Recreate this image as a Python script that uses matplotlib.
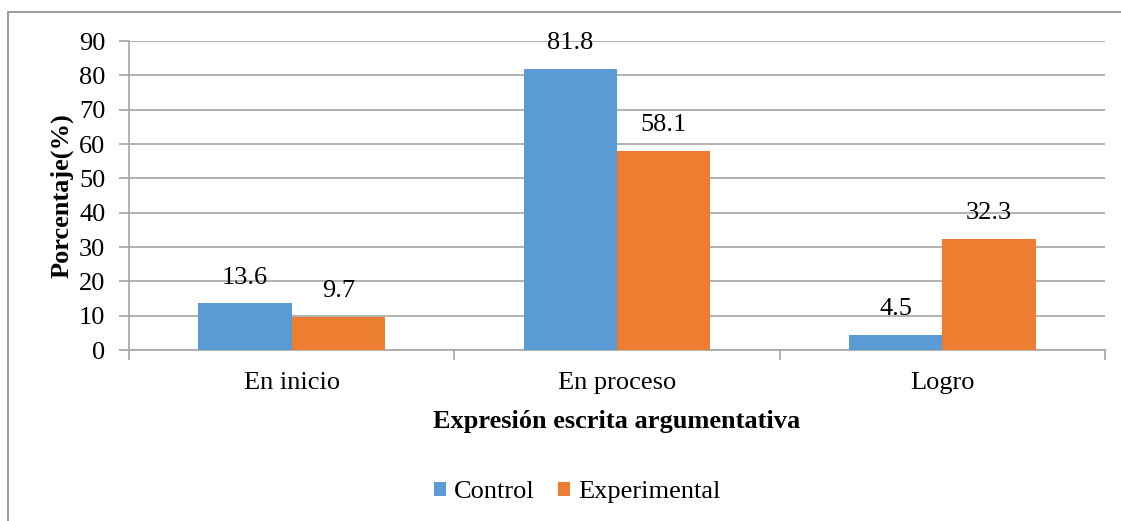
import numpy as np
import matplotlib.pyplot as plt
from matplotlib.patches import Rectangle
from matplotlib.ticker import FixedLocator

categories = ["En inicio", "En proceso", "Logro"]
control = [13.6, 81.8, 4.5]
experimental = [9.7, 58.1, 32.3]
series_names = ["Control", "Experimental"]

blue = "#5B9BD5"
orange = "#ED7D31"
grid_gray = "#A6A6A6"
font_size = 19

plt.rcParams['font.family'] = ['Liberation Serif', 'DejaVu Serif']

fig = plt.figure(figsize=(11.21, 5.21), dpi=100)
ax = fig.add_axes([0.1151, 0.3282, 0.8706, 0.5931])

# frame around the whole chart
fig.patches.append(Rectangle((8 / 1121, -0.05), 1.2, 1 - 12 / 521 + 0.05,
                             transform=fig.transFigure, fill=False,
                             edgecolor="#8C8C8C", linewidth=1.2))

x = np.arange(len(categories))
w = 0.287
b1 = ax.bar(x - w / 2, control, w, color=blue, label=series_names[0], zorder=3)
b2 = ax.bar(x + w / 2, experimental, w, color=orange, label=series_names[1], zorder=3)

for bars, vals in ((b1, control), (b2, experimental)):
    for r, v in zip(bars, vals):
        ax.text(r.get_x() + r.get_width() / 2, v + 4.3, f"{v}",
                ha="center", va="bottom", fontsize=font_size)

ax.set_ylim(0, 90)
ax.set_xlim(-0.5, 2.5)
ax.yaxis.set_major_locator(FixedLocator(np.arange(0, 91, 10)))
ax.grid(True, axis="y", color=grid_gray, linewidth=1.2, zorder=0)
ax.set_axisbelow(True)

ax.set_xticks(x)
ax.set_xticklabels(categories, fontsize=font_size)
ax.xaxis.set_minor_locator(FixedLocator([-0.5, 0.5, 1.5, 2.5]))
ax.tick_params(axis="x", which="major", length=0, pad=16)
ax.tick_params(axis="x", which="minor", length=7, color=grid_gray, width=1.2)
ax.tick_params(axis="y", length=7, color=grid_gray, width=1.2, labelsize=font_size, pad=10)

for s in ("top", "right"):
    ax.spines[s].set_visible(False)
for s in ("left", "bottom"):
    ax.spines[s].set_color(grid_gray)
    ax.spines[s].set_linewidth(1.2)

ax.set_ylabel("Porcentaje(%)", fontsize=font_size, fontweight="bold", labelpad=4)
ax.set_xlabel("Expresión escrita argumentativa", fontsize=font_size, fontweight="bold", labelpad=11)

fig.legend(loc="center", bbox_to_anchor=(577 / 1121, 1 - 492 / 521), ncol=2,
           frameon=False, fontsize=font_size, handlelength=0.45, handleheight=0.45,
           handletextpad=0.3, columnspacing=0.9)

fig.savefig("out.png", dpi=100)
